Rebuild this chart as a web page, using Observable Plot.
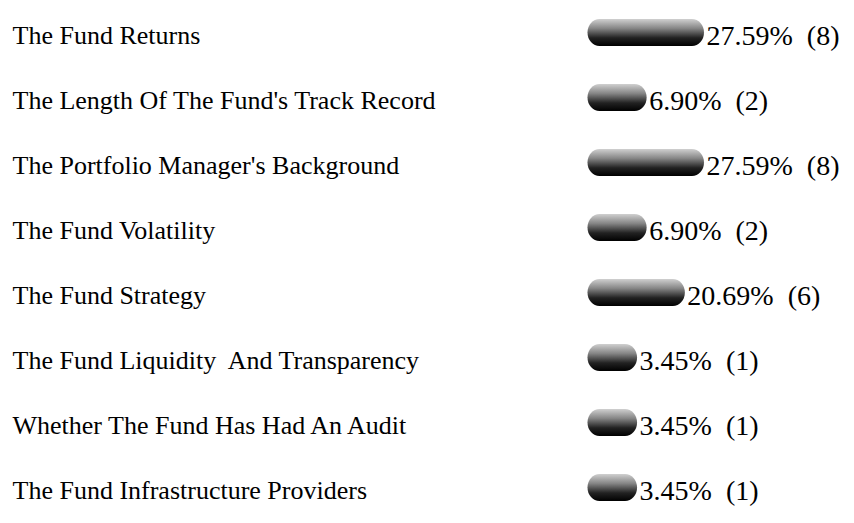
<!DOCTYPE html>
<html>
<head>
<meta charset="utf-8">
<script src="https://cdn.jsdelivr.net/npm/d3@7"></script>
<script src="https://cdn.jsdelivr.net/npm/@observablehq/plot@0.6"></script>
<style>
  html, body { margin: 0; padding: 0; background: #fff; }
  #chart svg { display: block; }
</style>
</head>
<body>
<div id="chart"></div>
<script>
const categories = [
  "The Fund Returns",
  "The Length Of The Fund's Track Record",
  "The Portfolio Manager's Background",
  "The Fund Volatility",
  "The Fund Strategy",
  "The Fund Liquidity  And Transparency",
  "Whether The Fund Has Had An Audit",
  "The Fund Infrastructure Providers"
];
const percents = [27.59, 6.90, 27.59, 6.90, 20.69, 3.45, 3.45, 3.45];
const counts = [8, 2, 8, 2, 6, 1, 1, 1];

const data = categories.map((c, i) => ({
  category: c,
  pct: percents[i],
  count: counts[i],
  label: `${percents[i].toFixed(2)}%  (${counts[i]})`
}));

const chart = Plot.plot({
  width: 854,
  height: 523,
  marginTop: -4,
  marginBottom: 0,
  marginLeft: 0,
  marginRight: 0,
  style: { fontFamily: "'Liberation Serif', 'Times New Roman', serif", background: "#fff" },
  x: { domain: [0, 100], range: [627.5, 904.8], axis: null },
  y: { domain: categories, axis: null, padding: 0 },
  marks: [
    Plot.barX(data, {
      x1: 0, x2: "pct", y: "category",
      insetLeft: -40, insetTop: 19, insetBottom: 19,
      rx: 12, ry: 14,
      fill: "url(#barGrad)"
    }),
    Plot.text(data, {
      y: "category", text: "category",
      frameAnchor: "left", dx: 12, dy: 3, textAnchor: "start",
      fontSize: 26, fill: "#000"
    }),
    Plot.text(data, {
      x: "pct", y: "category", text: "label",
      dx: 2, dy: 3, textAnchor: "start",
      fontSize: 28, fill: "#000"
    })
  ]
});

const ns = "http://www.w3.org/2000/svg";
const defs = document.createElementNS(ns, "defs");
defs.innerHTML = `
  <linearGradient id="barGrad" x1="0" y1="0" x2="0" y2="1">
    <stop offset="0%" stop-color="#d0d0d0"/>
    <stop offset="35%" stop-color="#858585"/>
    <stop offset="70%" stop-color="#222"/>
    <stop offset="100%" stop-color="#000"/>
  </linearGradient>`;
chart.insertBefore(defs, chart.firstChild);
document.getElementById("chart").appendChild(chart);
</script>
</body>
</html>
